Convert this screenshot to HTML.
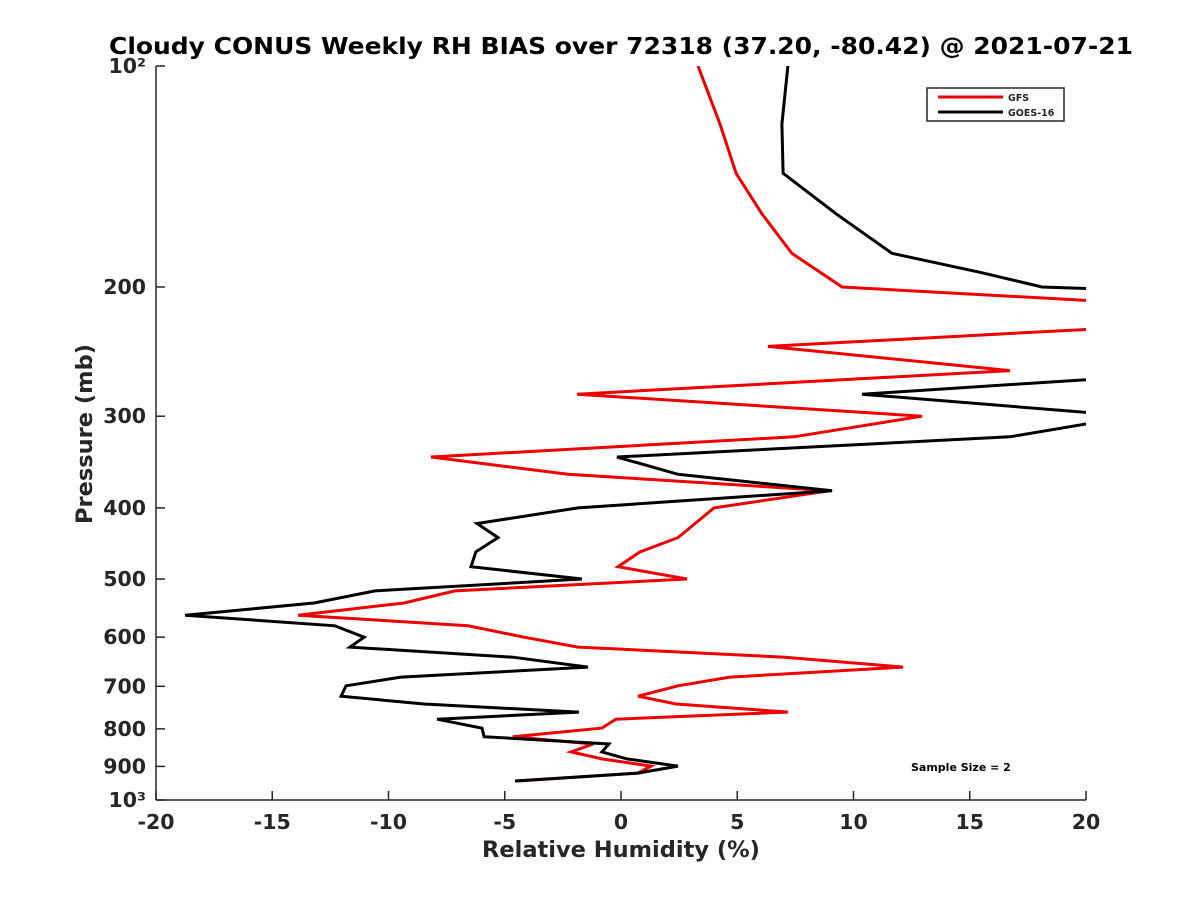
<!DOCTYPE html>
<html><head><meta charset="utf-8"><style>
body{margin:0;background:#fff;}
svg text{font-family:"DejaVu Sans","Liberation Sans",sans-serif;font-weight:bold;fill:#262626;}
</style></head><body>
<svg id="chart" width="1200" height="900" viewBox="0 0 1200 900" xmlns="http://www.w3.org/2000/svg">
<rect width="1200" height="900" fill="#fff"/>
<defs><clipPath id="pc"><rect x="156" y="66" width="930" height="734"/></clipPath></defs>
<text x="621" y="54" text-anchor="middle" font-size="23.5" textLength="1024" lengthAdjust="spacingAndGlyphs" style="fill:#000">Cloudy CONUS Weekly RH BIAS over 72318 (37.20, -80.42) @ 2021-07-21</text>
<g id="axes"></g>
<g id="series" clip-path="url(#pc)"></g>
<text x="621" y="857" text-anchor="middle" font-size="22.5">Relative Humidity (%)</text>
<text transform="translate(92,434) rotate(-90)" text-anchor="middle" font-size="22.5">Pressure (mb)</text>
<g>
<rect x="927" y="88" width="137" height="33" fill="#fff" stroke="#262626" stroke-width="1.5"/>
<line x1="938" y1="97" x2="1003" y2="97" stroke="#e00" stroke-width="3"/>
<text x="1008" y="101" font-size="9.5">GFS</text>
<line x1="938" y1="112" x2="1003" y2="112" stroke="#000" stroke-width="3"/>
<text x="1008" y="116" font-size="9.5">GOES-16</text>
</g>
<text x="911" y="771" font-size="11" style="fill:#000">Sample Size = 2</text>
</svg>
<script>
const xTicks=[-20,-15,-10,-5,0,5,10,15,20];
const yTicks=[100,200,300,400,500,600,700,800,900,1000];
const yTickLabels=["10²","200","300","400","500","600","700","800","900","10³"];
const gfsP=[100,120,140,159,180,200,212,225,241,260,280,300,320,341,360,379,400,439,459,481,500,519,539,560,579,600,619,639,659,680,699,722,740,759,776,798,820,839,860,879,899,919,942];
const gfsRH=[3.31,4.26,4.95,6.06,7.35,9.51,24,24,6.32,16.73,-1.89,12.95,7.44,-8.17,-2.28,8.99,4.0,2.45,0.82,-0.13,2.84,-7.14,-9.33,-13.89,-6.58,-4.17,-1.85,7.05,12.13,4.69,2.45,0.73,2.37,7.18,-0.22,-0.82,-4.65,-1.20,-2.15,-0.82,1.29,0.73,-4.47];
const goesP=[100,120,140,159,180,191,200,202,265,280,300,320,341,360,379,400,420,439,459,481,500,519,539,560,579,600,619,639,659,680,699,722,740,759,776,798,820,839,860,879,899,919,942];
const goesRH=[7.18,6.92,6.97,9.25,11.66,15.44,18.11,22,22,10.37,22,16.73,-0.17,2.45,9.08,-1.85,-6.19,-5.29,-6.24,-6.45,-1.68,-10.58,-13.2,-18.75,-12.3,-11.05,-11.66,-4.65,-1.42,-9.46,-11.83,-12.04,-8.47,-1.81,-7.91,-5.98,-5.89,-0.52,-0.82,0.26,2.45,0.73,-4.56];
const X0=156,X1=1086,Y0=66,Y1=800;
const xs=v=>X0+(v+20)/40*(X1-X0);
const ys=p=>Y0+(Math.log10(p)-2)*(Y1-Y0);
const NS="http://www.w3.org/2000/svg";
const ax=document.getElementById('axes');
function mk(t,a,parent){const e=document.createElementNS(NS,t);for(const k in a)e.setAttribute(k,a[k]);parent.appendChild(e);return e;}
const yl=mk('line',{x1:X0,y1:Y0,x2:X0,y2:Y1,stroke:'#262626','stroke-width':1.5},ax);


const xl=mk('line',{x1:X0,y1:Y1,x2:X1,y2:Y1,stroke:'#262626','stroke-width':1.5},ax);


xTicks.forEach(v=>{
  const x=xs(v);
  mk('line',{x1:x,y1:Y1,x2:x,y2:Y1-9,stroke:'#262626','stroke-width':1.5},ax);
  const t=mk('text',{x:x,y:829,'text-anchor':'middle','font-size':20.5},ax);
  t.textContent=v;
  
  
});
yTicks.forEach((p,i)=>{
  const y=ys(p);
  mk('line',{x1:X0,y1:y,x2:X0+9,y2:y,stroke:'#262626','stroke-width':1.5},ax);
  const t=mk('text',{x:146,y:y+7,'text-anchor':'end','font-size':20.5},ax);
  t.textContent=yTickLabels[i];
  
  
});
const sg=document.getElementById('series');
function draw(P,V,color,name){
  const d=P.map((p,i)=>(i?'L':'M')+xs(V[i]).toFixed(1)+','+ys(p).toFixed(1)).join(' ');
  const e=mk('path',{d:d,fill:'none',stroke:color,'stroke-width':3,'stroke-linejoin':'miter'},sg);
  
  
}
draw(gfsP,gfsRH,'#e00','gfs-line');
draw(goesP,goesRH,'#000','goes16-line');
</script>
</body></html>
